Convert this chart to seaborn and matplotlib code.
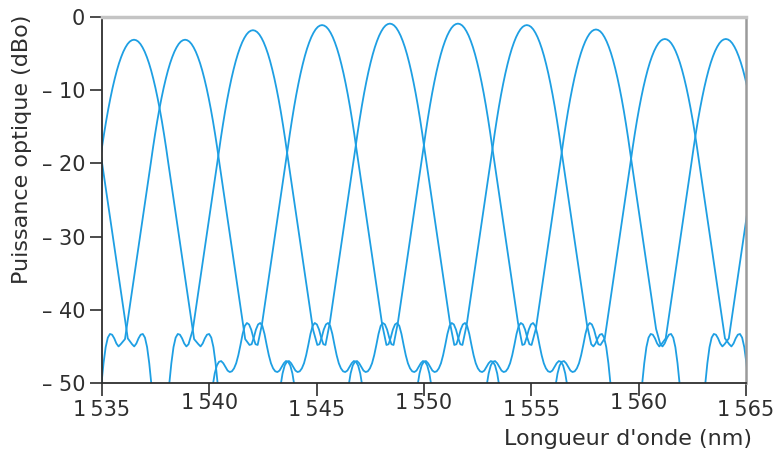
import matplotlib
matplotlib.use("Agg")
import matplotlib.pyplot as plt
import matplotlib.transforms as mtransforms
import pandas as pd
import seaborn as sns

# Canaux du démultiplexeur : longueur d'onde centrale (nm) et niveau crête (dBo)
centres = [1533.4, 1536.49, 1538.87, 1542.03, 1545.25, 1548.41,
           1551.58, 1554.79, 1558.01, 1561.22, 1564.06, 1567.0]
pics = [-3.0, -3.1, -3.1, -1.8, -1.1, -0.9, -0.9, -1.1, -1.7, -3.0, -3.0, -3.0]

# type de pied de courbe, côté gauche / côté droit de chaque canal
pied_gauche = ["ext", "ext", "ext", "ext", "mil", "mil",
               "mil", "mil", "mil", "mil", "ext", "ext"]
pied_droit = ["ext", "ext", "mil", "mil", "mil", "mil",
              "mil", "ext", "ext", "ext", "ext", "ext"]

# lobe principal : écart au centre (nm) -> chute (dB)
lobe_ecart = [0.0, 0.1, 0.2, 0.3, 0.4, 0.5, 0.6, 0.7, 0.8, 0.9, 1.0, 1.1, 1.2, 1.3, 1.4,
              1.5, 1.6, 1.7, 1.8, 1.9, 2.0, 2.1, 2.2, 2.3, 2.4, 2.5, 2.6, 2.7, 2.8]
lobe_chute = [0.0, 0.07, 0.26, 0.59, 1.06, 1.65, 2.38, 3.23, 4.22, 5.35, 6.6, 7.99, 9.5,
              11.15, 12.94, 14.85, 16.9, 18.9, 20.9, 22.9, 24.9, 26.9, 28.9, 30.9, 32.9,
              34.9, 36.9, 38.9, 40.9]

# pieds (lobes secondaires) : écart au centre (nm) -> niveau (dBo)
ext_ecart = [3.0, 3.1, 3.2, 3.3, 3.4, 3.5, 3.6, 3.7, 3.8, 3.9, 4.0]
ext_db = [-44.7, -45.0, -44.6, -43.9, -43.4, -43.3, -43.8, -45.1, -47.3, -50.2, -53.5]

mil_ecart = [3.0, 3.1, 3.2, 3.3, 3.4, 3.5, 3.6, 3.7, 3.8, 3.9, 4.0, 4.1,
             4.2, 4.3, 4.4, 4.5, 4.6, 4.7, 4.8, 4.9, 5.0, 5.1, 5.2]
mil_db = [-44.8, -44.7, -43.8, -42.7, -42.0, -41.8, -42.2, -43.3, -44.8, -46.2, -47.3, -48.0,
          -48.4, -48.5, -48.3, -47.8, -47.3, -47.0, -47.1, -47.6, -48.7, -50.5, -53.0]

x_ticks = [1535, 1540, 1545, 1550, 1555, 1560, 1565]
x_labels = ["1\u2009535", "1\u2009540", "1\u2009545", "1\u2009550",
            "1\u2009555", "1\u2009560", "1\u2009565"]
y_ticks = [0, -10, -20, -30, -40, -50]
y_labels = ["0", "– 10", "– 20", "– 30", "– 40", "– 50"]

pieds = {"ext": (ext_ecart, ext_db), "mil": (mil_ecart, mil_db)}

rows = []
for k, (c, p) in enumerate(zip(centres, pics)):
    lo, ld = pieds[pied_gauche[k]]
    ro, rd = pieds[pied_droit[k]]
    xs = ([c - o for o in reversed(lo)]
          + [c - o for o in reversed(lobe_ecart[1:])]
          + [c + o for o in lobe_ecart]
          + [c + o for o in ro])
    ys = (list(reversed(ld))
          + [p - d for d in reversed(lobe_chute[1:])]
          + [p - d for d in lobe_chute]
          + list(rd))
    for xv, yv in zip(xs, ys):
        rows.append({"canal": k, "lambda": xv, "puissance": yv})
df = pd.DataFrame(rows)

sns.set_style("ticks")
plt.rcParams["font.family"] = ["DejaVu Sans"]

ink = "#2e2e2e"
bleu = "#1e9fe3"

fig = plt.figure(figsize=(7.77, 4.55), dpi=100)
ax = fig.add_axes([0.1313, 0.1582, 0.8288, 0.8044])

sns.lineplot(data=df, x="lambda", y="puissance", units="canal", estimator=None,
             color=bleu, lw=1.3, legend=False, ax=ax)

ax.set_xlim(1535, 1565)
ax.set_ylim(-50, 0)
ax.set_xticks(x_ticks)
ax.set_xticklabels(x_labels)
ax.set_yticks(y_ticks)
ax.set_yticklabels(y_labels)

ax.tick_params(direction="out", length=9, width=1.2, color=ink,
               labelsize=15, labelcolor=ink, pad=3)

# étiquettes 1 540, 1 550, 1 560 décalées vers le haut
for i, lab in enumerate(ax.get_xticklabels()):
    if i % 2 == 1:
        lab.set_transform(lab.get_transform()
                          + mtransforms.ScaledTranslation(0, 4.5 / 72, fig.dpi_scale_trans))

for side in ["left", "bottom"]:
    ax.spines[side].set_color(ink)
    ax.spines[side].set_linewidth(1.3)
ax.spines["top"].set_color("#c4c4c4")
ax.spines["top"].set_linewidth(2.5)
ax.spines["right"].set_color("#9a9a9a")
ax.spines["right"].set_linewidth(1.8)

ax.set_xlabel("Longueur d'onde (nm)", fontsize=16, color=ink, ha="right")
ax.xaxis.set_label_coords(1.009, -0.125)
ax.xaxis.label.set_va("top")
ax.set_ylabel("Puissance optique (dBo)", fontsize=16, color=ink)
ax.yaxis.set_label_coords(-0.108, 0.639)

fig.savefig("out.png", dpi=100)
